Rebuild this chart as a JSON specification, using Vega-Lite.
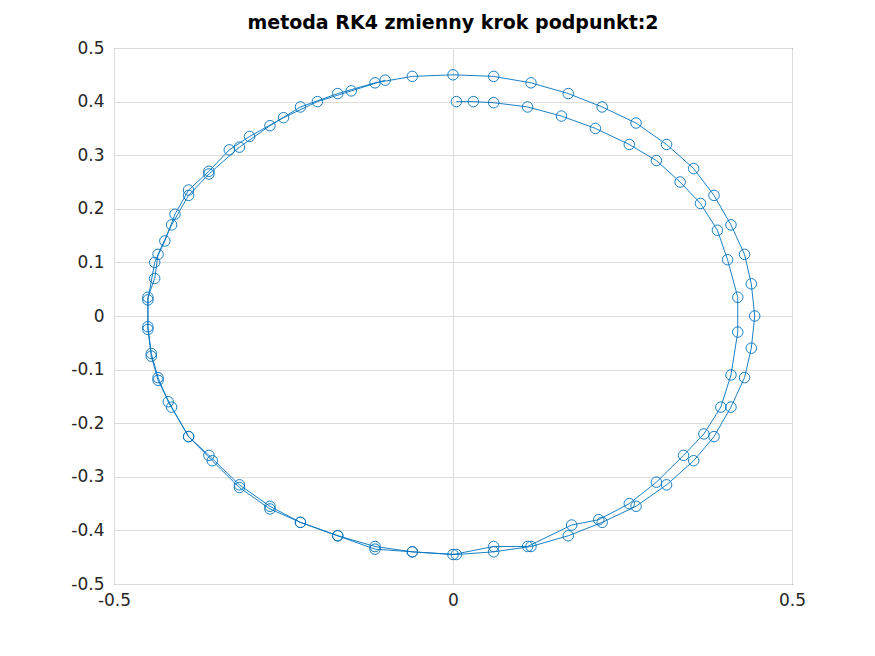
{
  "$schema": "https://vega.github.io/schema/vega-lite/v6.json",
  "width": 678,
  "height": 536,
  "autosize": "none",
  "padding": {"left": 114, "top": 48, "right": 83, "bottom": 72},
  "background": "white",
  "title": {"text": "metoda RK4 zmienny krok podpunkt:2", "fontSize": 19, "fontWeight": "bold", "font": "DejaVu Sans", "color": "black", "offset": 6},
  "config": {
    "view": {"stroke": "#262626", "strokeWidth": 1},
    "axis": {
      "labelFont": "DejaVu Sans", "labelFontSize": 17, "labelColor": "#262626",
      "grid": true, "gridColor": "#dcdcdc", "domain": false,
      "ticks": false, "title": null, "labelFlush": false,
      "labelExpr": "replace(datum.label, '−', '-')"
    }
  },
  "data": {"values": [
    {"i": 0, "x": 0.005, "y": 0.40}, {"i": 1, "x": 0.03, "y": 0.40}, {"i": 2, "x": 0.06, "y": 0.398},
    {"i": 3, "x": 0.11, "y": 0.39}, {"i": 4, "x": 0.16, "y": 0.373}, {"i": 5, "x": 0.21, "y": 0.35},
    {"i": 6, "x": 0.26, "y": 0.32}, {"i": 7, "x": 0.30, "y": 0.29}, {"i": 8, "x": 0.335, "y": 0.25},
    {"i": 9, "x": 0.365, "y": 0.21}, {"i": 10, "x": 0.39, "y": 0.16}, {"i": 11, "x": 0.405, "y": 0.105},
    {"i": 12, "x": 0.42, "y": 0.035}, {"i": 13, "x": 0.42, "y": -0.03}, {"i": 14, "x": 0.41, "y": -0.11},
    {"i": 15, "x": 0.395, "y": -0.17}, {"i": 16, "x": 0.37, "y": -0.22}, {"i": 17, "x": 0.34, "y": -0.26},
    {"i": 18, "x": 0.30, "y": -0.31}, {"i": 19, "x": 0.26, "y": -0.35}, {"i": 20, "x": 0.215, "y": -0.38},
    {"i": 21, "x": 0.175, "y": -0.39}, {"i": 22, "x": 0.11, "y": -0.43}, {"i": 23, "x": 0.06, "y": -0.43},
    {"i": 24, "x": 0.0, "y": -0.445}, {"i": 25, "x": -0.06, "y": -0.44}, {"i": 26, "x": -0.115, "y": -0.43},
    {"i": 27, "x": -0.17, "y": -0.41}, {"i": 28, "x": -0.225, "y": -0.385}, {"i": 29, "x": -0.27, "y": -0.355},
    {"i": 30, "x": -0.315, "y": -0.315}, {"i": 31, "x": -0.36, "y": -0.26}, {"i": 32, "x": -0.39, "y": -0.225},
    {"i": 33, "x": -0.42, "y": -0.16}, {"i": 34, "x": -0.435, "y": -0.115}, {"i": 35, "x": -0.445, "y": -0.07},
    {"i": 36, "x": -0.45, "y": -0.02}, {"i": 37, "x": -0.45, "y": 0.035}, {"i": 38, "x": -0.44, "y": 0.07},
    {"i": 39, "x": -0.435, "y": 0.115}, {"i": 40, "x": -0.415, "y": 0.17}, {"i": 41, "x": -0.39, "y": 0.225},
    {"i": 42, "x": -0.36, "y": 0.265}, {"i": 43, "x": -0.315, "y": 0.315}, {"i": 44, "x": -0.27, "y": 0.355},
    {"i": 45, "x": -0.225, "y": 0.39}, {"i": 46, "x": -0.17, "y": 0.415}, {"i": 47, "x": -0.115, "y": 0.435},
    {"i": 48, "x": -0.06, "y": 0.447}, {"i": 49, "x": 0.0, "y": 0.45}, {"i": 50, "x": 0.06, "y": 0.447},
    {"i": 51, "x": 0.115, "y": 0.435}, {"i": 52, "x": 0.17, "y": 0.415}, {"i": 53, "x": 0.22, "y": 0.39},
    {"i": 54, "x": 0.27, "y": 0.36}, {"i": 55, "x": 0.315, "y": 0.32}, {"i": 56, "x": 0.355, "y": 0.275},
    {"i": 57, "x": 0.385, "y": 0.225}, {"i": 58, "x": 0.41, "y": 0.17}, {"i": 59, "x": 0.43, "y": 0.115},
    {"i": 60, "x": 0.44, "y": 0.06}, {"i": 61, "x": 0.445, "y": 0.0}, {"i": 62, "x": 0.44, "y": -0.06},
    {"i": 63, "x": 0.43, "y": -0.115}, {"i": 64, "x": 0.41, "y": -0.17}, {"i": 65, "x": 0.385, "y": -0.225},
    {"i": 66, "x": 0.355, "y": -0.27}, {"i": 67, "x": 0.315, "y": -0.315}, {"i": 68, "x": 0.27, "y": -0.355},
    {"i": 69, "x": 0.22, "y": -0.385}, {"i": 70, "x": 0.17, "y": -0.41}, {"i": 71, "x": 0.115, "y": -0.43},
    {"i": 72, "x": 0.06, "y": -0.44}, {"i": 73, "x": 0.005, "y": -0.445}, {"i": 74, "x": -0.06, "y": -0.44},
    {"i": 75, "x": -0.115, "y": -0.435}, {"i": 76, "x": -0.17, "y": -0.41}, {"i": 77, "x": -0.225, "y": -0.385},
    {"i": 78, "x": -0.27, "y": -0.36}, {"i": 79, "x": -0.315, "y": -0.32}, {"i": 80, "x": -0.355, "y": -0.27},
    {"i": 81, "x": -0.39, "y": -0.225}, {"i": 82, "x": -0.415, "y": -0.17}, {"i": 83, "x": -0.435, "y": -0.12},
    {"i": 84, "x": -0.445, "y": -0.075}, {"i": 85, "x": -0.45, "y": -0.025}, {"i": 86, "x": -0.45, "y": 0.03},
    {"i": 87, "x": -0.44, "y": 0.1}, {"i": 88, "x": -0.425, "y": 0.14}, {"i": 89, "x": -0.41, "y": 0.19},
    {"i": 90, "x": -0.39, "y": 0.235}, {"i": 91, "x": -0.36, "y": 0.27}, {"i": 92, "x": -0.33, "y": 0.31},
    {"i": 93, "x": -0.3, "y": 0.335}, {"i": 94, "x": -0.25, "y": 0.37}, {"i": 95, "x": -0.2, "y": 0.40},
    {"i": 96, "x": -0.15, "y": 0.42}, {"i": 97, "x": -0.1, "y": 0.44}
  ]},
  "encoding": {
    "x": {"field": "x", "type": "quantitative", "scale": {"domain": [-0.5, 0.5], "nice": false}, "axis": {"values": [-0.5, 0, 0.5], "format": "~g", "labelPadding": 8}},
    "y": {"field": "y", "type": "quantitative", "scale": {"domain": [-0.5, 0.5], "nice": false}, "axis": {"values": [-0.5, -0.4, -0.3, -0.2, -0.1, 0, 0.1, 0.2, 0.3, 0.4, 0.5], "format": "~g", "labelPadding": 10}},
    "order": {"field": "i", "type": "quantitative"}
  },
  "layer": [
    {"mark": {"type": "line", "color": "#0072BD", "strokeWidth": 0.9}},
    {"mark": {"type": "point", "shape": "circle", "filled": false, "color": "#0072BD", "size": 110, "strokeWidth": 0.9, "opacity": 1}}
  ]
}
